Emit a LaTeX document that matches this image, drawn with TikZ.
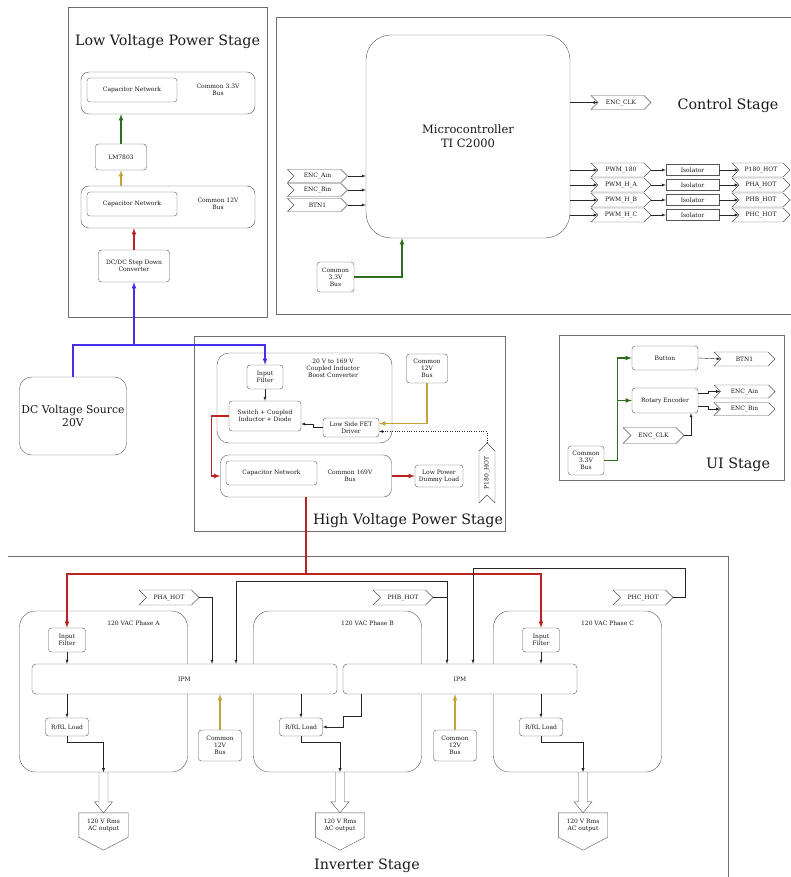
\documentclass[tikz,border=0pt]{standalone}
\usepackage{fontspec}
\setmainfont{DejaVu Serif}
\usetikzlibrary{arrows,calc,shapes.symbols,positioning}

\definecolor{frameGray}{RGB}{110,110,110}
\definecolor{lineGray}{RGB}{85,85,85}
\definecolor{txtGray}{RGB}{25,25,25}
\definecolor{busBlue}{RGB}{70,45,235}
\definecolor{busRed}{RGB}{185,35,35}
\definecolor{busGreen}{RGB}{45,110,30}
\definecolor{busGold}{RGB}{195,165,55}

\begin{document}
\begin{tikzpicture}[x=1pt,y=-1pt,>=latex,
	stage/.style={draw=frameGray,line width=0.7pt},
	stagetitle/.style={text=txtGray,font=\fontsize{14.3}{16}\selectfont},
	block/.style={draw=lineGray,rounded corners=3pt,fill=white,align=center,text=txtGray,font=\fontsize{6}{7}\selectfont,inner sep=1pt},
	phasebox/.style={draw=lineGray,rounded corners=12pt},
	txt/.style={align=center,text=txtGray,font=\fontsize{6}{7}\selectfont},
	sig/.style={draw=lineGray,signal,signal from=west,signal to=east,fill=white,text=txtGray,font=\fontsize{6}{7}\selectfont,minimum height=14pt,minimum width=60pt,inner sep=1pt},
	wire/.style={draw=black!85,->},
	pwr/.style={line width=1.1pt,->}]

	\useasboundingbox (0,0) rectangle (791,877);

	%Low voltage power stage
	\draw[stage] (68,7) rectangle (267,317);
	\node[stagetitle] at (167.5,42) {Low Voltage Power Stage};
	\node[phasebox,rounded corners=8pt,minimum width=174,minimum height=42] (lv33) at (168,93) {};
	\node[block,minimum width=90,minimum height=24] (lvcap33) at (132,90) {Capacitor Network};
	\node[txt] at (218,90) {Common 3.3V\\Bus};
	\node[block,minimum width=51,minimum height=26] (lm) at (121,157) {LM7803};
	\node[phasebox,rounded corners=8pt,minimum width=174,minimum height=42] (lv12) at (168,207) {};
	\node[block,minimum width=90,minimum height=24] (lvcap12) at (132,204) {Capacitor Network};
	\node[txt] at (218,204) {Common 12V\\Bus};
	\node[block,minimum width=71,minimum height=32] (dcdc) at (134,266) {DC/DC Step Down\\Converter};

	\draw[pwr,draw=busGreen] (lm.north) -- (lm.north |- lv33.south);
	\draw[pwr,draw=busGold] (lm.north |- lv12.north) -- (lm.south);
	\draw[pwr,draw=busRed] (dcdc.north) -- (dcdc.north |- lv12.south);

	%Source
	\node[block,rounded corners=12pt,minimum width=107,minimum height=78,font=\fontsize{10.8}{13}\selectfont] (dcsrc) at (73,416) {DC Voltage Source\\20V};

	%Control stage
	\draw[stage] (791,17) -- (276,17) -- (276,314) -- (791,314);
	\node[stagetitle] at (728,106) {Control Stage};
	\node[block,rounded corners=25pt,minimum width=204,minimum height=203,font=\fontsize{11.5}{14}\selectfont] (mcu) at (468,136.5) {Microcontroller\\TI C2000};

	\foreach \name/\txt/\y in {ina/ENC\_Ain/176, inb/ENC\_Bin/190, inbtn/BTN1/205}{
		\node[sig,minimum width=60,minimum height=13] (\name) at (317.5,\y) {\txt};
		\draw[wire] (\name.east) -- (\name.east -| mcu.west);
	}

	\node[block,minimum width=37,minimum height=30] (mcu33) at (335.5,277) {Common\\3.3V\\Bus};
	\draw[pwr,draw=busGreen] (mcu33.east) -| ([xshift=-66pt]mcu.south);

	\node[sig] (clkout) at (621,102.5) {ENC\_CLK};
	\draw[wire] (clkout.west -| mcu.east) -- (clkout.west);

	\foreach \pwm/\hot/\y [count=\i] in {PWM\_180/P180\_HOT/170, PWM\_H\_A/PHA\_HOT/185, PWM\_H\_B/PHB\_HOT/200, PWM\_H\_C/PHC\_HOT/215}{
		\node[sig] (pwm\i) at (621,\y) {\pwm};
		\node[block,rounded corners=0pt,minimum width=53,minimum height=11] (iso\i) at (692.5,\y) {Isolator};
		\node[sig,minimum width=58] (hot\i) at (761,\y) {\hot};
		\draw[wire] (pwm\i.west -| mcu.east) -- (pwm\i.west);
		\draw[wire] (pwm\i.east) -- (iso\i.west);
		\draw[wire] (iso\i.east) -- (hot\i.west);
	}

	%UI stage
	\draw[stage] (559,335) rectangle (784,480);
	\node[stagetitle] at (738,465) {UI Stage};
	\node[block,minimum width=66,minimum height=24] (button) at (665,358) {Button};
	\node[block,minimum width=66,minimum height=25] (rotenc) at (665,400.5) {Rotary Encoder};
	\node[sig,minimum width=61] (btn1) at (744.5,359) {BTN1};
	\node[sig,minimum width=61,minimum height=13] (encain) at (744.5,391.5) {ENC\_Ain};
	\node[sig,minimum width=61,minimum height=13] (encbin) at (744.5,409) {ENC\_Bin};
	\node[sig,minimum width=61,minimum height=16] (clkin) at (653.5,435.5) {ENC\_CLK};
	\node[block,minimum width=36,minimum height=29] (ui33) at (586,460.5) {Common\\3.3V\\Bus};

	\draw[pwr,draw=busGreen] (ui33.east) -- ++(13,0) coordinate (uij) |- (button.west);
	\draw[pwr,draw=busGreen] (uij) |- (rotenc.west);
	\draw[wire] (button.east) -- (btn1.west);
	\draw[wire] ([yshift=7pt]rotenc.east) -- ++(10,0) |- (encain.west);
	\draw[wire] ([yshift=-6pt]rotenc.east) -- ++(10,0) |- (encbin.west);
	\draw[wire] (clkin.east) -| ([xshift=26pt]rotenc.south);

	%High voltage power stage
	\draw[stage] (194,336) rectangle (505,531);
	\node[stagetitle] at (408,521) {High Voltage Power Stage};
	\node[phasebox,minimum width=175,minimum height=90] (boost) at (304.5,398) {};
	\node[txt] at (333,368) {20 V to 169 V\\Coupled Inductor\\Boost Converter};
	\node[block,minimum width=36,minimum height=24] (hvin) at (265,377) {Input\\Filter};
	\node[block,minimum width=72,minimum height=30] (sw) at (265,416) {Switch + Coupled\\Inductor + Diode};
	\node[block,minimum width=56,minimum height=19] (fet) at (351,427.5) {Low Side FET\\Driver};
	\node[block,minimum width=41,minimum height=29] (hv12) at (427,368.5) {Common\\12V\\Bus};
	\node[phasebox,rounded corners=8pt,minimum width=171,minimum height=42] (bus169) at (306,476) {};
	\node[block,minimum width=91,minimum height=24] (cap169) at (271.5,473) {Capacitor Network};
	\node[txt] at (350,476) {Common 169V\\Bus};
	\node[block,minimum width=48,minimum height=22] (dummy) at (439,476) {Low Power\\Dummy Load};
	\node[sig,rotate=90,minimum width=60,minimum height=16] (p180in) at (487,473) {P180\_HOT};

	\coordinate (vin) at (134,345);
	\draw[pwr,draw=busBlue] (dcsrc.north) |- (vin) -| (hvin.north);
	\draw[pwr,draw=busBlue] (vin) -- (dcdc.south);

	\draw[wire] (hvin.south) -- (sw.north);
	\draw[wire] (fet.west) -- ++(-10,0) |- ([yshift=-8pt]sw.east);
	\draw[pwr,draw=busGold] (hv12.south) |- ([yshift=4pt]fet.east);
	\draw[wire,dotted] (p180in.east) |- ([yshift=-4pt]fet.east);
	\draw[pwr,draw=busRed] (sw.west) -- ++(-17,0) |- (bus169.west);
	\draw[pwr,draw=busRed] (bus169.east) -- (dummy.west);

	%Inverter stage
	\draw[stage] (8,556) -- (728,556) -- (728,880);
	\node[stagetitle] at (367,866) {Inverter Stage};
	\foreach \p/\gx in {A/103.5, B/337.5, C/577.5}{
		\node[phasebox,rounded corners=16pt,minimum width=168,minimum height=161] (ph\p) at (\gx,691.5) {};
		\node[txt] at (\gx+30,623) {120 VAC Phase \p};
	}
	\node[block,rounded corners=4pt,minimum width=305,minimum height=30] (ipmA) at (184.5,679) {IPM};
	\node[block,rounded corners=4pt,minimum width=234,minimum height=30] (ipmB) at (460,679) {IPM};
	\node[block,minimum width=37,minimum height=24] (infA) at (67,640) {Input\\Filter};
	\node[block,minimum width=37,minimum height=24] (infC) at (541,640) {Input\\Filter};
	\foreach \p/\x in {A/67, B/301, C/541}
		\node[block,minimum width=43,minimum height=18] (rl\p) at (\x,727) {R/RL Load};
	\foreach \p/\x in {A/220, B/455}
		\node[block,minimum width=43,minimum height=31] (c12\p) at (\x,745.5) {Common\\12V\\Bus};
	\foreach \p/\x in {A/169, B/403, C/643}
		\node[sig,minimum height=15] (hot\p) at (\x,597.5) {PH\p\_HOT};
	\foreach \p/\x in {A/103.5, B/340, C/583}{
		\node[txt,minimum width=49,minimum height=24,inner sep=0pt] (ac\p) at (\x,825) {120 V Rms\\AC output};
		\draw[draw=lineGray] (ac\p.north west) -- (ac\p.north east) -- (ac\p.south east) -- ($(ac\p.south)+(0,13)$) -- (ac\p.south west) -- cycle;
		\draw[draw=lineGray] ($(ac\p.north)+(-4.5,-41)$) -- ++(0,30) -- ++(-4.5,0) -- (ac\p.north) -- ++(9,-11) -- ++(-4.5,0) -- ++(0,-30);
	}

	\coordinate (hvbus) at (306,574);
	\draw[line width=1.1pt,draw=busRed] (bus169.south) -- (hvbus);
	\draw[pwr,draw=busRed] (hvbus) -| (infA.north);
	\draw[pwr,draw=busRed] (hvbus) -| (infC.north);

	\draw[wire] (infA.south) -- (infA.south |- ipmA.north);
	\draw[wire] (infC.south) -- (infC.south |- ipmB.north);
	\draw[wire] (rlA.north |- ipmA.south) -- (rlA.north);
	\draw[wire] (rlC.north |- ipmB.south) -- (rlC.north);
	\draw[wire] (rlB.north |- ipmA.south) -- (rlB.north);
	\draw[wire] ([xshift=-99pt]ipmB.south) -- ++(0,22) -- ++(-18,0) |- (rlB.east);
	\draw[pwr,draw=busGold] (c12A.north) -- (c12A.north |- ipmA.south);
	\draw[pwr,draw=busGold] (c12B.north) -- (c12B.north |- ipmB.south);
	\foreach \p in {A,B,C}
		\draw[wire] (rl\p.south) -- ++(0,6) -| (ac\p.north |- ph\p.south);

	\draw[wire] (hotA.east) -| ([xshift=27.5pt]ipmA.north);
	\coordinate (hbj) at (447,581);
	\draw[wire] (hbj) -| ([xshift=51.5pt]ipmA.north);
	\draw[wire] (hbj) -- (hbj |- ipmB.north);
	\draw[draw=black!85] (hotB.east) -| (hbj);
	\draw[wire] (hotC.east) -| (685,568) -| ([xshift=13pt]ipmB.north);

\end{tikzpicture}
\end{document}
